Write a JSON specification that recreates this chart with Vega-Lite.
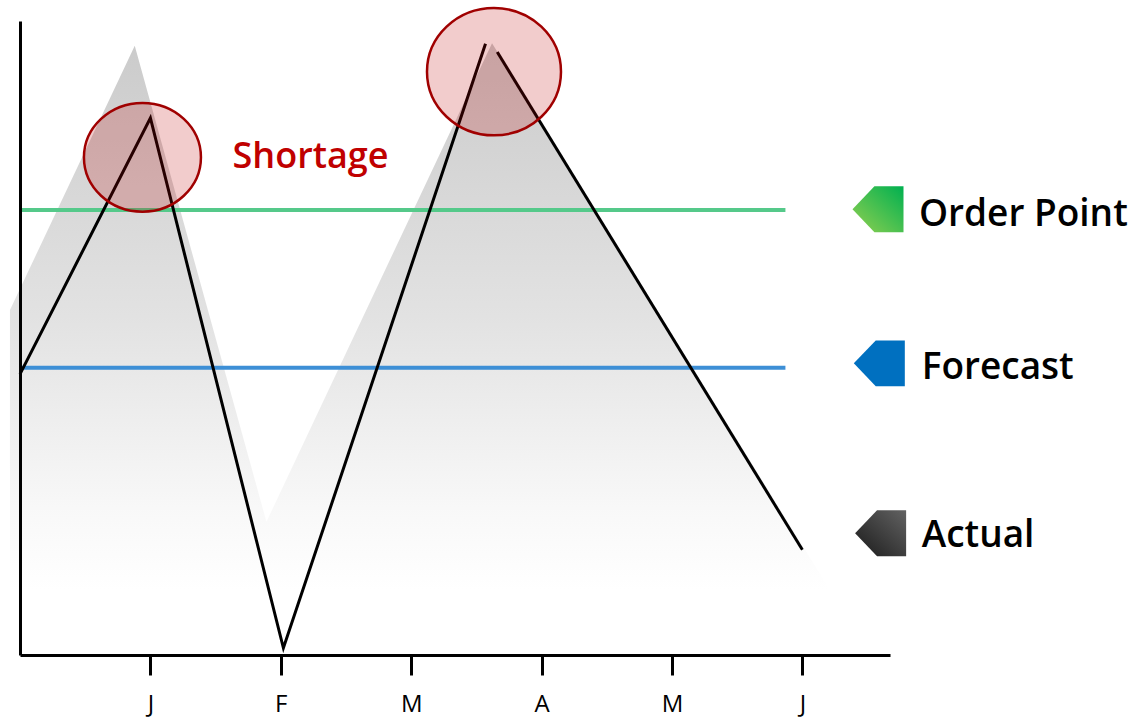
{
  "$schema": "https://vega.github.io/schema/vega-lite/v6.json",
  "width": 870,
  "height": 634,
  "autosize": {"type": "none"},
  "padding": {"left": 20, "top": 21, "right": 257, "bottom": 66},
  "background": "white",
  "config": {
    "view": {"stroke": null},
    "font": "Open Sans"
  },
  "datasets": {
    "shadow": [
      {"month": -0.077, "level": 54.4},
      {"month": 0.88, "level": 96.1},
      {"month": 1.89, "level": 21.0},
      {"month": 3.62, "level": 96.5},
      {"month": 6.21, "level": 10.3}
    ],
    "thresholds": [
      {"series": "Order Point", "month": 0, "level": 70.2},
      {"series": "Order Point", "month": 5.87, "level": 70.2},
      {"series": "Forecast", "month": 0, "level": 45.3},
      {"series": "Forecast", "month": 5.87, "level": 45.3}
    ],
    "actual": [
      {"segment": "a", "month": 0, "level": 44.3},
      {"segment": "a", "month": 1.0, "level": 84.7},
      {"segment": "a", "month": 2.02, "level": 1.1},
      {"segment": "a", "month": 3.57, "level": 96.4},
      {"segment": "b", "month": 3.66, "level": 95.1},
      {"segment": "b", "month": 6.0, "level": 16.6}
    ],
    "shortages": [
      {"peak": "first", "month": 0.939, "level": 78.5},
      {"peak": "second", "month": 3.635, "level": 92.0}
    ],
    "seriesKeys": [
      {"series": "Order Point", "month": 6.58, "level": 70.3, "labelMonth": 6.894, "labelLevel": 67.6},
      {"series": "Forecast", "month": 6.59, "level": 46.0, "labelMonth": 6.915, "labelLevel": 43.5},
      {"series": "Actual", "month": 6.6, "level": 19.2, "labelMonth": 6.915, "labelLevel": 17.0}
    ]
  },
  "encoding": {
    "x": {
      "field": "month",
      "type": "quantitative",
      "scale": {"domain": [0, 6.672], "nice": false, "zero": false},
      "axis": {
        "values": [1, 2, 3, 4, 5, 6],
        "labelExpr": "['J','F','M','A','M','J'][datum.value - 1]",
        "title": null,
        "grid": false,
        "zindex": 1,
        "domainColor": "black",
        "domainWidth": 3,
        "tickColor": "black",
        "tickWidth": 3,
        "tickSize": 20,
        "labelFont": "Open Sans",
        "labelFontSize": 24,
        "labelColor": "black",
        "labelPadding": 17
      }
    },
    "y": {
      "field": "level",
      "type": "quantitative",
      "scale": {"domain": [0, 100], "nice": false},
      "axis": {
        "title": null,
        "grid": false,
        "zindex": 1,
        "ticks": false,
        "labels": false,
        "domainColor": "black",
        "domainWidth": 3
      }
    }
  },
  "layer": [
    {
      "data": {"name": "shadow"},
      "mark": {
        "type": "area",
        "color": {
          "gradient": "linear",
          "x1": 0, "y1": 0, "x2": 0, "y2": 1,
          "stops": [
            {"offset": 0, "color": "#cbcbcb"},
            {"offset": 0.5, "color": "#e2e2e2"},
            {"offset": 0.85, "color": "#f8f8f8"},
            {"offset": 1, "color": "#ffffff"}
          ]
        }
      },
      "encoding": {
        "y2": {"datum": 10.3}
      }
    },
    {
      "data": {"name": "thresholds"},
      "mark": {"type": "line", "strokeWidth": 4},
      "encoding": {
        "color": {
          "field": "series",
          "type": "nominal",
          "scale": {"domain": ["Order Point", "Forecast"], "range": ["#55c98a", "#3d8fd6"]},
          "legend": null
        }
      }
    },
    {
      "data": {"name": "actual"},
      "mark": {"type": "line", "color": "black", "strokeWidth": 3},
      "encoding": {
        "detail": {"field": "segment"}
      }
    },
    {
      "data": {"name": "shortages"},
      "transform": [{"filter": "datum.peak === 'first'"}],
      "mark": {
        "type": "point",
        "shape": "M -1 0 A 1 0.93 0 1 1 1 0 A 1 0.93 0 1 1 -1 0 Z",
        "size": 13689,
        "filled": true,
        "fill": "#c00000",
        "fillOpacity": 0.2,
        "stroke": "#a00000",
        "strokeWidth": 2.5,
        "opacity": 1
      }
    },
    {
      "data": {"name": "shortages"},
      "transform": [{"filter": "datum.peak === 'second'"}],
      "mark": {
        "type": "point",
        "shape": "M -1 0 A 1 0.95 0 1 1 1 0 A 1 0.95 0 1 1 -1 0 Z",
        "size": 17956,
        "filled": true,
        "fill": "#c00000",
        "fillOpacity": 0.2,
        "stroke": "#a00000",
        "strokeWidth": 2.5,
        "opacity": 1
      }
    },
    {
      "data": {"values": [{"note": "Shortage", "month": 2.228, "level": 76.8}]},
      "mark": {
        "type": "text",
        "font": "Open Sans",
        "fontSize": 36,
        "fontWeight": 600,
        "color": "#c00000",
        "align": "center",
        "baseline": "alphabetic"
      },
      "encoding": {
        "text": {"field": "note"}
      }
    },
    {
      "data": {"name": "seriesKeys"},
      "mark": {
        "type": "text",
        "font": "Open Sans",
        "fontSize": 37,
        "fontWeight": 600,
        "color": "black",
        "align": "left",
        "baseline": "alphabetic"
      },
      "encoding": {
        "x": {"field": "labelMonth", "type": "quantitative"},
        "y": {"field": "labelLevel", "type": "quantitative"},
        "text": {"field": "series"}
      }
    },
    {
      "data": {"name": "seriesKeys"},
      "transform": [{"filter": "datum.series === 'Forecast'"}],
      "mark": {
        "type": "point",
        "shape": "M -1 0 L -0.14 -0.9 L 1 -0.9 L 1 0.9 L -0.14 0.9 Z",
        "size": 2601,
        "filled": true,
        "opacity": 1,
        "color": "#0070c0"
      }
    },
    {
      "data": {"name": "seriesKeys"},
      "transform": [{"filter": "datum.series === 'Order Point'"}],
      "mark": {
        "type": "point",
        "shape": "M -1 0 L -0.14 -0.9 L 1 -0.9 L 1 0.9 L -0.14 0.9 Z",
        "size": 2601,
        "filled": true,
        "opacity": 1,
        "color": {
          "gradient": "linear",
          "x1": 0, "y1": 1, "x2": 1, "y2": 0,
          "stops": [
            {"offset": 0, "color": "#92d050"},
            {"offset": 1, "color": "#00b050"}
          ]
        }
      }
    },
    {
      "data": {"name": "seriesKeys"},
      "transform": [{"filter": "datum.series === 'Actual'"}],
      "mark": {
        "type": "point",
        "shape": "M -1 0 L -0.14 -0.9 L 1 -0.9 L 1 0.9 L -0.14 0.9 Z",
        "size": 2601,
        "filled": true,
        "opacity": 1,
        "color": {
          "gradient": "linear",
          "x1": 0, "y1": 1, "x2": 1, "y2": 0,
          "stops": [
            {"offset": 0, "color": "#1a1a1a"},
            {"offset": 1, "color": "#626262"}
          ]
        }
      }
    }
  ]
}
